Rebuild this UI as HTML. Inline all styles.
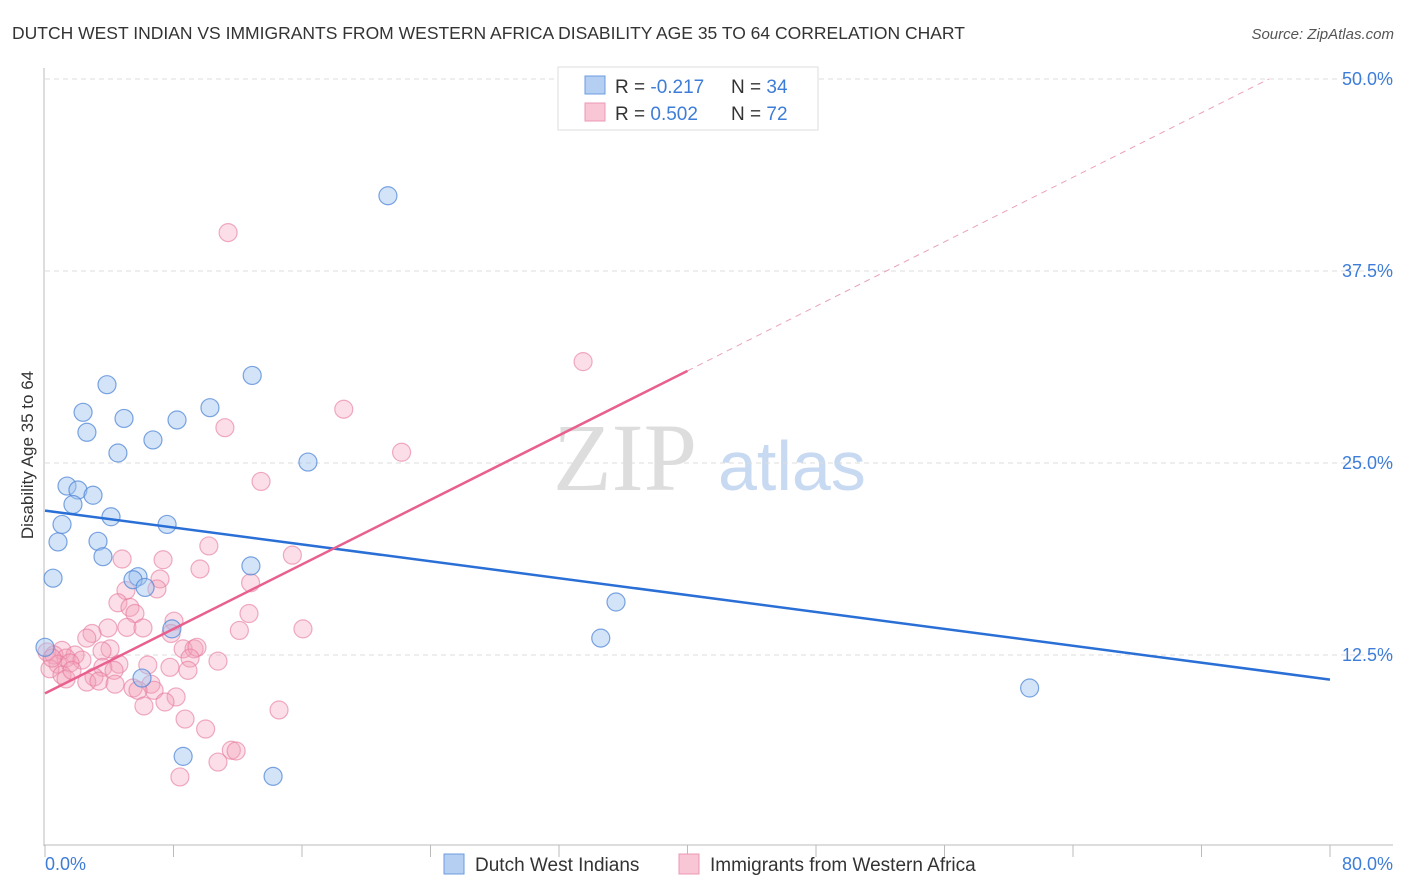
<!DOCTYPE html>
<html><head><meta charset="utf-8"><style>
body{margin:0;background:#fff;font-family:"Liberation Sans",sans-serif;}
svg{display:block}
</style></head><body>
<svg id="chart" width="1406" height="892" xmlns="http://www.w3.org/2000/svg">
<text x="12" y="39" font-size="17.5" fill="#333">DUTCH WEST INDIAN VS IMMIGRANTS FROM WESTERN AFRICA DISABILITY AGE 35 TO 64 CORRELATION CHART</text>
<text x="1394" y="39" font-size="15" fill="#555" text-anchor="end" font-style="italic">Source: ZipAtlas.com</text>
<g>
<text x="553" y="490" font-size="96" fill="#ddd" font-family="Liberation Serif,serif">ZIP</text>
<text x="718" y="490" font-size="70" fill="#c8d9f2">atlas</text>
</g>
<g id="grid"></g>
<g id="axes"></g>
<text transform="translate(33,455) rotate(-90)" font-size="17" fill="#333" text-anchor="middle">Disability Age 35 to 64</text>
<g id="pts"></g>
<g id="lines"></g>
<g>
<rect x="558" y="67" width="260" height="63" fill="#fff" stroke="#ddd"/>
<rect x="585" y="76" width="20" height="18" fill="#b4cff2" stroke="#6b9be0"/>
<rect x="585" y="103" width="20" height="18" fill="#f8c6d5" stroke="#ec98b4"/>
<text x="615" y="93" font-size="19" fill="#333">R = <tspan fill="#3d7dd8">-0.217</tspan><tspan x="731">N = </tspan><tspan fill="#3d7dd8">34</tspan></text>
<text x="615" y="120" font-size="19" fill="#333">R = <tspan fill="#3d7dd8"> 0.502</tspan><tspan x="731">N = </tspan><tspan fill="#3d7dd8">72</tspan></text>
</g>
<g>
<rect x="444" y="854" width="20" height="20" fill="#b4cff2" stroke="#6b9be0"/>
<text x="475" y="871" font-size="19" fill="#333">Dutch West Indians</text>
<rect x="679" y="854" width="20" height="20" fill="#f8c6d5" stroke="#ec98b4"/>
<text x="710" y="871" font-size="19" fill="#333">Immigrants from Western Africa</text>
</g>
</svg>
<script>
const yTicks=[12.5,25,37.5,50];
const yTickLabels=["12.5%","25.0%","37.5%","50.0%"];
const xTickLabels=["0.0%","80.0%"];
const blueX=[21.35,12.9,3.86,10.27,2.37,4.92,8.22,2.61,6.72,4.54,16.37,1.37,2.05,2.99,1.74,4.11,1.06,7.6,0.81,3.3,3.61,12.82,0.5,5.79,5.48,6.23,35.55,34.6,7.9,0,6.04,61.3,8.6,14.2];
const blueY=[42.4,30.7,30.1,28.6,28.3,27.9,27.8,27.0,26.5,25.65,25.06,23.5,23.24,22.9,22.3,21.5,21.0,21.0,19.86,19.9,18.9,18.3,17.5,17.6,17.4,16.9,15.95,13.6,14.2,13.0,11.0,10.35,5.9,4.6];
const pinkX=[11.4,33.5,18.6,11.2,22.2,13.45,10.2,15.4,4.8,7.35,9.65,7.16,12.8,5.04,6.97,4.54,5.29,5.6,12.7,8.03,5.1,3.92,6.1,12.1,16.06,2.93,7.85,2.6,4.05,1.06,8.6,9.28,9.46,3.55,0.12,0.56,1.87,1.31,2.3,9.03,10.77,0.81,1.56,4.6,6.4,7.78,0.31,3.6,4.3,8.9,1.06,3.05,1.31,2.6,3.36,4.36,6.6,5.48,6.79,8.16,5.79,7.47,6.16,14.57,8.72,10.0,11.6,11.9,10.77,8.4,0.44,1.68];
const pinkY=[40.0,31.6,28.5,27.3,25.7,23.8,19.6,19.0,18.75,18.7,18.1,17.45,17.2,16.7,16.8,15.9,15.6,15.2,15.2,14.7,14.3,14.26,14.26,14.1,14.2,13.9,13.9,13.6,12.9,12.8,12.9,12.9,13.0,12.76,12.7,12.5,12.5,12.3,12.17,12.3,12.1,11.9,11.98,11.9,11.85,11.7,11.6,11.7,11.5,11.5,11.2,11.07,10.94,10.74,10.8,10.6,10.6,10.35,10.2,9.77,10.2,9.44,9.18,8.92,8.33,7.68,6.3,6.25,5.53,4.56,12.3,11.5];
const blueTrend=[21.9,10.9];
const pinkTrend=[10.0,31.0];
const NS="http://www.w3.org/2000/svg";
const X=v=>45+v/80*1285, Y=v=>847-v/12.5*192;
function mk(t,a,p){const e=document.createElementNS(NS,t);for(const k in a)e.setAttribute(k,a[k]);(p||document.getElementById('chart')).appendChild(e);return e;}
const grid=document.getElementById('grid'),axes=document.getElementById('axes'),pts=document.getElementById('pts'),lines=document.getElementById('lines');
yTicks.forEach((t,i)=>{
 const g=mk('line',{x1:45,x2:1393,y1:Y(t),y2:Y(t),stroke:'#ddd','stroke-dasharray':'5,4'},grid);
 
 
 const l=mk('text',{x:1393,y:Y(t)+6,'font-size':18,fill:'#3d7dd8','text-anchor':'end'},axes);
 l.textContent=yTickLabels[i];
 
 
});
mk('line',{x1:44,x2:44,y1:68,y2:846,stroke:'#bbb'},axes);
mk('line',{x1:44,x2:1393,y1:845,y2:845,stroke:'#bbb'},axes);
for(let i=0;i<=10;i++){const t=mk('line',{x1:X(i*8),x2:X(i*8),y1:845,y2:857,stroke:'#bbb'},axes);}
const xl0=mk('text',{x:45,y:870,'font-size':18,fill:'#3d7dd8'},axes);xl0.textContent=xTickLabels[0];


const xl1=mk('text',{x:1393,y:870,'font-size':18,fill:'#3d7dd8','text-anchor':'end'},axes);xl1.textContent=xTickLabels[1];


pinkX.forEach((x,i)=>{const c=mk('circle',{cx:X(x),cy:Y(pinkY[i]),r:9,fill:'rgba(244,160,185,0.35)',stroke:'rgba(230,120,155,0.6)','stroke-width':1.2},pts);
 
 });
blueX.forEach((x,i)=>{const c=mk('circle',{cx:X(x),cy:Y(blueY[i]),r:9,fill:'rgba(160,195,240,0.45)',stroke:'rgba(80,135,215,0.75)','stroke-width':1.2},pts);
 
 });
const bl=mk('line',{x1:X(0),y1:Y(blueTrend[0]),x2:X(80),y2:Y(blueTrend[1]),stroke:'#2a6fd6','stroke-width':2.5},lines);


const slope=(pinkTrend[1]-pinkTrend[0])/40;
const pl=mk('line',{x1:X(0),y1:Y(pinkTrend[0]),x2:X(40),y2:Y(pinkTrend[1]),stroke:'#e8608e','stroke-width':2.5},lines);


const xe=(50-pinkTrend[0])/slope;
const pd=mk('line',{x1:X(40),y1:Y(pinkTrend[1]),x2:X(xe),y2:Y(50),stroke:'#eaa0ba','stroke-width':1,'stroke-dasharray':'6,5'},lines);


</script>
</body></html>
